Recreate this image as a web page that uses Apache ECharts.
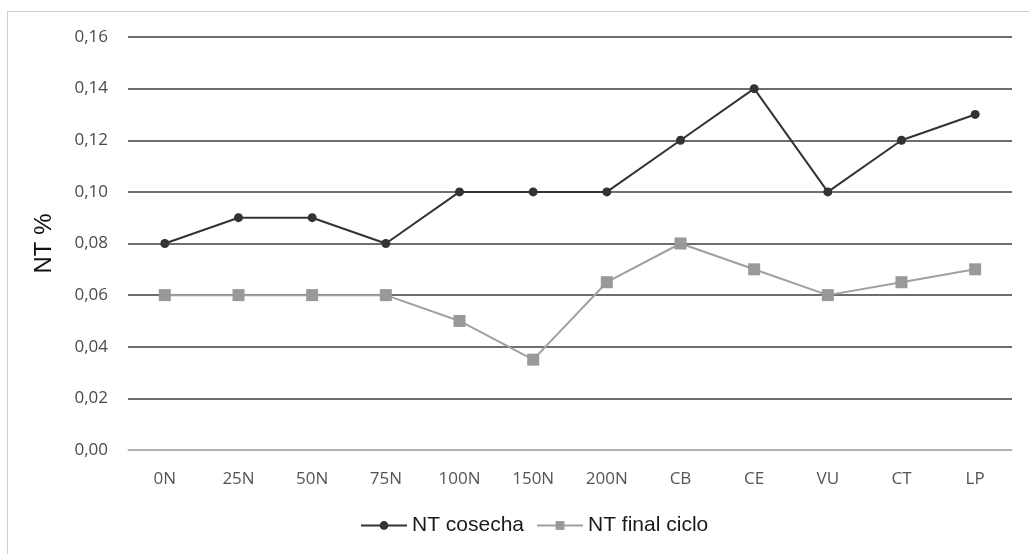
<!DOCTYPE html>
<html><head><meta charset="utf-8">
<script src="https://cdn.jsdelivr.net/npm/echarts@6/dist/echarts.min.js"></script>
<style>html,body{margin:0;padding:0;background:#fff;overflow:hidden}#c{width:1029px;height:554px;}
#frame{position:absolute;left:7px;top:11px;width:1100px;height:600px;border:1px solid #cfcfcf;box-sizing:border-box;pointer-events:none}</style>
</head><body><div id="c"></div><div id="frame"></div>
<script>
const categories = ['0N','25N','50N','75N','100N','150N','200N','CB','CE','VU','CT','LP'];
const ntCosecha = [0.08,0.09,0.09,0.08,0.10,0.10,0.10,0.12,0.14,0.10,0.12,0.13];
const ntFinalCiclo = [0.06,0.06,0.06,0.06,0.05,0.035,0.065,0.08,0.07,0.06,0.065,0.07];
const yTicks = {min:0, max:0.16, interval:0.02};

const chart = echarts.init(document.getElementById('c'));
chart.setOption({
  animation:false,
  grid:{left:128,right:17,top:37,bottom:104},
  legend:{
    bottom:13, left:355, itemWidth:46, itemHeight:11, itemGap:12,
    textStyle:{fontFamily:'Liberation Sans, Arial', fontSize:21, color:'#1a1a1a'},
    data:['NT cosecha','NT final ciclo']
  },
  xAxis:{
    type:'category', data:categories, boundaryGap:true,
    axisLine:{show:true,lineStyle:{color:'#c8c8c8',width:1.5}},
    axisTick:{show:false},
    axisLabel:{color:'#555',fontFamily:'Open Sans, Noto Sans',fontSize:17,margin:21}
  },
  yAxis:{
    type:'value', min:yTicks.min, max:yTicks.max, interval:yTicks.interval,
    name:'NT %', nameLocation:'middle', nameGap:72, nameRotate:90,
    nameTextStyle:{fontFamily:'Liberation Sans, Arial',fontSize:24,color:'#111'},
    axisLine:{show:false}, axisTick:{show:false},
    axisLabel:{color:'#4a4a4a',fontFamily:'Open Sans, Noto Sans',fontSize:17,margin:20,
      formatter:v=>v.toFixed(2).replace('.',',')},
    splitLine:{lineStyle:{color:'#6e6e6e',width:2}}
  },
  series:[
    {name:'NT cosecha',type:'line',data:ntCosecha,symbol:'circle',symbolSize:9,
     lineStyle:{color:'#333',width:2},itemStyle:{color:'#333'},z:3},
    {name:'NT final ciclo',type:'line',data:ntFinalCiclo,symbol:'rect',symbolSize:12,
     lineStyle:{color:'#a0a0a0',width:2},itemStyle:{color:'#999'},z:2}
  ]
});
</script></body></html>
